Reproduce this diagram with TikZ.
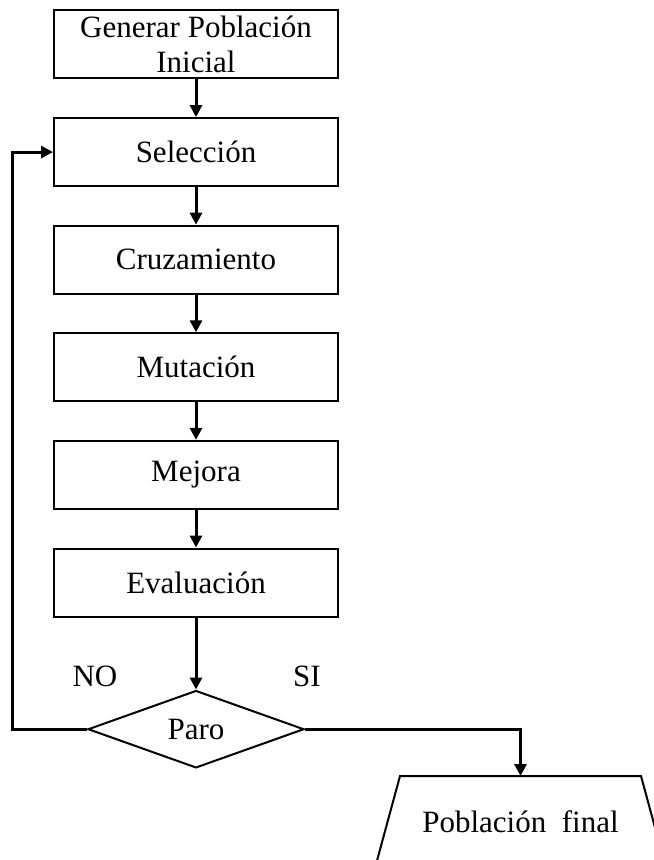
\documentclass[tikz,border=0pt]{standalone}
\usepackage{fontspec}
\setmainfont{Liberation Serif}
\usetikzlibrary{positioning,arrows.meta,shapes.geometric,calc}

\begin{document}
\begin{tikzpicture}[
    x=0.5pt, y=-0.5pt,
    node distance=18.8pt,
    box/.style={draw, line width=1pt, minimum width=142pt, minimum height=34pt,
                inner sep=0pt, align=center, font=\fontsize{15.5}{17.5}\selectfont},
    decision/.style={draw, diamond, line width=1pt, minimum width=108pt,
                     minimum height=37.5pt, inner sep=0pt, font=\fontsize{15.5}{17.5}\selectfont},
    lbl/.style={font=\fontsize{15.5}{17.5}\selectfont, inner sep=0pt},
    arrow/.style={-{Triangle[length=6pt,width=6pt]}, line width=1.5pt},
  ]
    \useasboundingbox (0,0) rectangle (653,860);

    % Main chain of steps
    \node[box] (gen) at (196,44.5) {Generar Población\\Inicial};
    \node[box, below=of gen] (sel) {Selección};
    \node[box, below=of sel] (cru) {Cruzamiento};
    \node[box, below=of cru] (mut) {Mutación};
    \node[box, below=of mut] (mej) {Mejora};
    \node[box, below=of mej] (eva) {Evaluación};
    \node[decision, below=36pt of eva] (par) {Paro};

    % Final population (open trapezium, runs off the page)
    \node[lbl] (fin) at (520.5,822) {Población\ \ final};
    \coordinate (fintop) at (520.5,776);
    \draw[line width=1pt] (375,868) -- (400,776) -- (641,776) -- (666,868);

    % Branch labels
    \node[lbl] (no) at ($(par.west)+(4pt,26.5pt)$) {NO};
    \node[lbl] (si) at ($(par.east)+(1pt,26.5pt)$) {SI};

    % Arrows down the chain
    \draw[arrow] (gen) -- (sel);
    \draw[arrow] (sel) -- (cru);
    \draw[arrow] (cru) -- (mut);
    \draw[arrow] (mut) -- (mej);
    \draw[arrow] (mej) -- (eva);
    \draw[arrow] (eva) -- (par);

    % Loop back and exit
    \draw[arrow] (par.west) -- ++(-37.5pt,0) |- (sel.west);
    \draw[arrow] (par.east) -| (fintop);
  \end{tikzpicture}
\end{document}
